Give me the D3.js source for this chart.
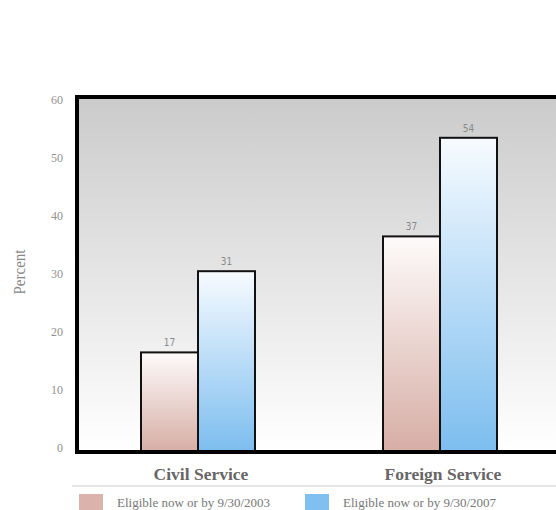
<!DOCTYPE html>
<html>
<head>
<meta charset="utf-8">
<script src="https://cdn.jsdelivr.net/npm/d3@7"></script>
<style>
  html, body { margin: 0; padding: 0; background: #fff; }
  svg { display: block; }
</style>
</head>
<body>
<svg id="chart" width="556" height="510"></svg>
<script>
// Retirement eligibility by service
const categories = ["Civil Service", "Foreign Service"];
const seriesNames = ["Eligible now or by 9/30/2003", "Eligible now or by 9/30/2007"];
const values2003 = [17, 37];
const values2007 = [31, 54];
const yTicks = [0, 10, 20, 30, 40, 50, 60];

const svg = d3.select("#chart");
const W = 556, H = 510;
const plot = { left: 77, top: 97, right: 561, bottom: 452 };

const x = d3.scaleBand().domain(categories).range([plot.left, plot.right]).padding(0);
const y = d3.scaleLinear().domain([0, 60]).range([plot.bottom - 1, 103]);
const barW = 57;

const defs = svg.append("defs");
const bg = defs.append("linearGradient").attr("id", "bgGrad").attr("x1", 0).attr("y1", 0).attr("x2", 0).attr("y2", 1);
bg.append("stop").attr("offset", "0%").attr("stop-color", "#cbcbcb");
bg.append("stop").attr("offset", "100%").attr("stop-color", "#ffffff");

const g1 = defs.append("linearGradient").attr("id", "grad2003").attr("x1", 0).attr("y1", 0).attr("x2", 0).attr("y2", 1);
g1.append("stop").attr("offset", "0%").attr("stop-color", "#fdfbfa");
g1.append("stop").attr("offset", "100%").attr("stop-color", "#d7ada5");

const g2 = defs.append("linearGradient").attr("id", "grad2007").attr("x1", 0).attr("y1", 0).attr("x2", 0).attr("y2", 1);
g2.append("stop").attr("offset", "0%").attr("stop-color", "#f7fbff");
g2.append("stop").attr("offset", "100%").attr("stop-color", "#7cbdef");

// plot background
svg.append("rect")
  .attr("x", plot.left).attr("y", plot.top)
  .attr("width", plot.right - plot.left).attr("height", plot.bottom - plot.top)
  .attr("fill", "url(#bgGrad)");

// y tick labels
svg.append("g").selectAll("text").data(yTicks).join("text")
  .attr("x", 63).attr("y", d => y(d) - 2)
  .attr("text-anchor", "end").attr("dominant-baseline", "middle")
  .attr("font-family", "Liberation Serif, serif").attr("font-size", 12)
  .attr("fill", "#909090")
  .text(d => d);

// y axis title
svg.append("text")
  .attr("transform", `translate(25,${272}) rotate(-90)`)
  .attr("text-anchor", "middle")
  .attr("font-family", "Liberation Serif, serif").attr("font-size", 16)
  .attr("fill", "#888")
  .attr("textLength", 45).attr("lengthAdjust", "spacingAndGlyphs")
  .text("Percent");

// bars
const rows = categories.map((c, i) => ({ cat: c, v: [values2003[i], values2007[i]] }));
const grads = ["url(#grad2003)", "url(#grad2007)"];
const groups = svg.append("g").selectAll("g").data(rows).join("g");
[0, 1].forEach(s => {
  groups.append("rect")
    .attr("x", d => x(d.cat) + x.bandwidth() / 2 - barW + s * barW)
    .attr("y", d => y(d.v[s]))
    .attr("width", barW)
    .attr("height", d => plot.bottom - y(d.v[s]))
    .attr("fill", grads[s])
    .attr("stroke", "#111").attr("stroke-width", 2);
  groups.append("text")
    .attr("x", d => x(d.cat) + x.bandwidth() / 2 - barW / 2 + s * barW)
    .attr("y", d => y(d.v[s]) - 6)
    .attr("text-anchor", "middle")
    .attr("font-family", "DejaVu Sans Condensed, DejaVu Sans, sans-serif").attr("font-size", 10)
    .attr("fill", "#8a8a8a")
    .text(d => d.v[s]);
});

// frame: left, top and bottom edges
svg.append("path")
  .attr("d", `M${W + 5},${plot.top} H${plot.left} V${plot.bottom} H${W + 5}`)
  .attr("fill", "none").attr("stroke", "#000").attr("stroke-width", 4);

// category labels
svg.append("g").selectAll("text").data(categories).join("text")
  .attr("x", d => x(d) + x.bandwidth() / 2 + 3)
  .attr("y", 480)
  .attr("text-anchor", "middle")
  .attr("font-family", "Liberation Serif, serif").attr("font-size", 17.5).attr("font-weight", "bold")
  .attr("fill", "#666")
  .text(d => d);

// separator
svg.append("line").attr("x1", 72).attr("x2", W).attr("y1", 486).attr("y2", 486)
  .attr("stroke", "#dcdcdc").attr("stroke-width", 1.5);

// legend
const legendColors = ["#dbb2ac", "#80c0f0"];
const legendX = [79, 305];
const lg = svg.append("g").selectAll("g").data(seriesNames).join("g")
  .attr("transform", (d, i) => `translate(${legendX[i]},494)`);
lg.append("rect").attr("width", 24).attr("height", 17).attr("fill", (d, i) => legendColors[i]);
lg.append("text").attr("x", 38).attr("y", 13)
  .attr("font-family", "Liberation Serif, serif").attr("font-size", 13)
  .attr("fill", "#777")
  .text(d => d);
</script>
</body>
</html>
